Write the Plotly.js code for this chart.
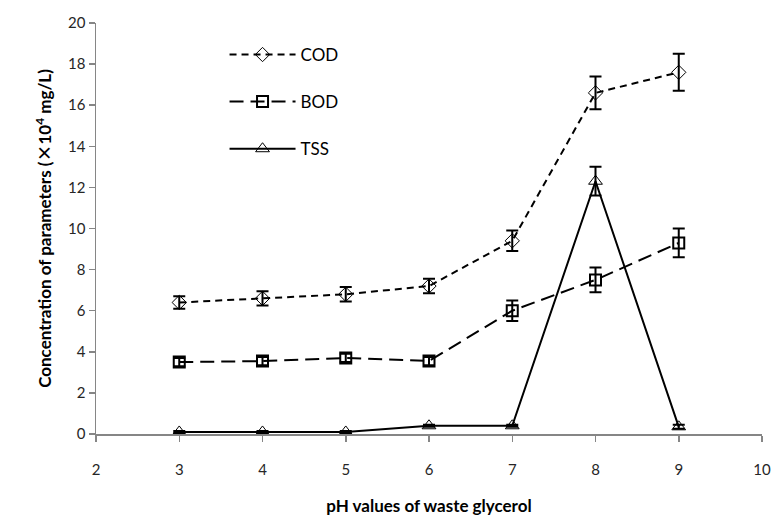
<!DOCTYPE html>
<html>
<head>
<meta charset="utf-8">
<script src="https://cdn.plot.ly/plotly-3.0.1.min.js"></script>
<style>html,body{margin:0;padding:0;background:#fff;}#chart{width:774px;height:523px;}</style>
</head>
<body>
<div id="chart"></div>
<script>
const phValues = [3, 4, 5, 6, 7, 8, 9];
const codValues = [6.4, 6.6, 6.8, 7.2, 9.4, 16.6, 17.6];
const codErrors = [0.3, 0.35, 0.35, 0.35, 0.5, 0.8, 0.9];
const bodValues = [3.5, 3.55, 3.7, 3.55, 6.0, 7.5, 9.3];
const bodErrors = [0.2, 0.2, 0.2, 0.2, 0.5, 0.6, 0.7];
const tssValues = [0.1, 0.1, 0.1, 0.4, 0.4, 12.3, 0.35];
const tssErrors = [0.05, 0.05, 0.05, 0.05, 0.05, 0.7, 0.1];
const seriesNames = ['COD', 'BOD', 'TSS'];
const xTickValues = [2, 3, 4, 5, 6, 7, 8, 9, 10];
const yTickValues = [0, 2, 4, 6, 8, 10, 12, 14, 16, 18, 20];

function errBar(arr) {
  return {type: 'data', array: arr, visible: true, color: '#000', thickness: 2, width: 6};
}

const traces = [
  {
    x: phValues, y: codValues, name: seriesNames[0], type: 'scatter', mode: 'lines+markers',
    line: {color: '#000', width: 2, dash: '7px,5px'},
    marker: {symbol: 'diamond-open', size: 11, color: '#000', line: {width: 1}},
    error_y: errBar(codErrors), legendgroup: 'a'
  },
  {
    x: phValues, y: bodValues, name: seriesNames[1], type: 'scatter', mode: 'lines+markers',
    line: {color: '#000', width: 2, dash: '14px,7px'},
    marker: {symbol: 'square-open', size: 11, color: '#000', line: {width: 2}},
    error_y: errBar(bodErrors), legendgroup: 'b'
  },
  {
    x: phValues, y: tssValues, name: seriesNames[2], type: 'scatter', mode: 'lines+markers',
    line: {color: '#000', width: 2},
    marker: {symbol: 'triangle-up-open', size: 12, color: '#000', line: {width: 1}},
    error_y: errBar(tssErrors), legendgroup: 'c'
  }
];

const fontFam = 'Lato, "Open Sans", "DejaVu Sans", sans-serif';

const layout = {
  width: 774, height: 523,
  margin: {l: 96, r: 12, t: 23, b: 89},
  paper_bgcolor: '#fff', plot_bgcolor: '#fff',
  font: {family: fontFam, size: 15, color: '#262626'},
  showlegend: true,
  legend: {
    x: 0.193, y: 0.966, xanchor: 'left', yanchor: 'top',
    bgcolor: 'rgba(0,0,0,0)', font: {size: 17, color: '#000'},
    tracegroupgap: 22, itemwidth: 66
  },
  xaxis: {
    range: [2, 10], tickvals: xTickValues, ticktext: xTickValues.map(String),
    showgrid: false, zeroline: false, showline: true, linecolor: '#868686', linewidth: 1.5,
    ticks: 'outside', ticklen: 6, tickcolor: '#868686', tickwidth: 1.5,
    ticklabelstandoff: 15,
    tickfont: {size: 15, color: '#262626'},
    title: {text: '<b>pH values of waste glycerol</b>', font: {size: 17, color: '#000'}, standoff: 23},
    fixedrange: true
  },
  yaxis: {
    range: [0, 20], tickvals: yTickValues, ticktext: yTickValues.map(String),
    showgrid: false, zeroline: false, showline: true, linecolor: '#868686', linewidth: 1.5,
    ticks: 'outside', ticklen: 6, tickcolor: '#868686', tickwidth: 1.5,
    tickfont: {size: 15, color: '#262626'},
    title: {text: '<b>Concentration of parameters (<span style="font-family:\'Noto Sans CJK SC\'">×</span>10<sup>4</sup> mg/L)</b>', font: {size: 17, color: '#000'}, standoff: 12},
    fixedrange: true
  }
};

Plotly.newPlot('chart', traces, layout, {displayModeBar: false, staticPlot: true});
</script>
</body>
</html>
